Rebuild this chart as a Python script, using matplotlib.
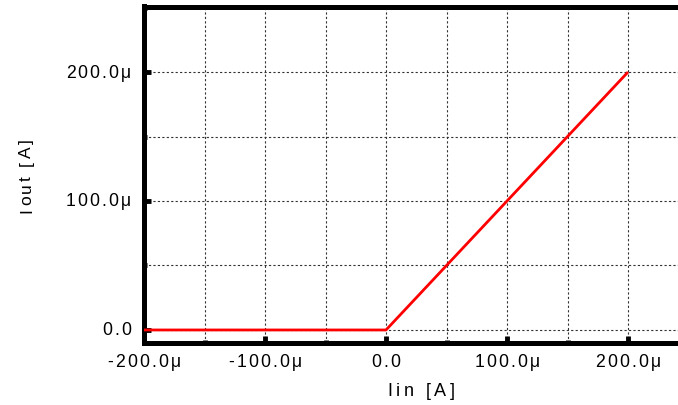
import matplotlib
matplotlib.use("Agg")
import matplotlib.pyplot as plt
from matplotlib.ticker import MultipleLocator, NullFormatter
from matplotlib.font_manager import FontProperties, findfont, get_font

W, H, DPI = 678, 405, 100
FAMILY = 'Liberation Sans'

# ---- data ----
iin = [-200e-6, 0.0, 200e-6]
iout = [0.0, 0.0, 200e-6]
x_major = [-200e-6, -100e-6, 0.0, 100e-6, 200e-6]
y_major = [0.0, 100e-6, 200e-6]
x_label = 'Iin [A]'
y_label = 'Iout [A]'


def fmt(v):
    if abs(v) < 1e-12:
        return "0.0"
    return f"{v*1e6:.1f}\u03bc"


def advances(s, size_pt):
    font = get_font(findfont(FontProperties(family=FAMILY, size=size_pt)))
    font.set_size(size_pt, DPI)
    return [font.load_char(ord(c)).linearHoriAdvance / 65536 for c in s]


def spaced_text(fig, s, x, y, size_pt, spacing, align='center', rotation=0):
    """Draw text with letter spacing. x, y in image pixels (y down).
    For rotation 0: x is anchor along baseline (align left/center/right), y baseline.
    For rotation 90: y is anchor along text, x baseline."""
    adv = advances(s, size_pt)
    total = sum(adv) + spacing * (len(s) - 1)
    if align == 'center':
        start = -total / 2
    elif align == 'right':
        start = -total
    else:
        start = 0.0
    pen = start
    for c, a in zip(s, adv):
        mid = pen + a / 2
        if rotation == 0:
            px, py = x + mid, y
        else:
            px, py = x, y - mid
        fig.text(px / W, 1 - py / H, c, fontsize=size_pt, family=FAMILY,
                 ha='center', va='baseline', rotation=rotation,
                 rotation_mode='anchor', color='black')
        pen += a + spacing


fig = plt.figure(figsize=(W / DPI, H / DPI), dpi=DPI)
left, right, top, bottom = 144, 678, 6.5, 343
ax = fig.add_axes([left / W, 1 - bottom / H, (right - left) / W, (bottom - top) / H])

ax.plot(iin, iout, color='#ff0000', lw=2, solid_capstyle='butt', zorder=3, clip_on=False)

ax.set_xlim(-200e-6, 241.3e-6)
ax.set_ylim(-10.1e-6, 250.8e-6)

ax.set_xticks(x_major)
ax.set_yticks(y_major)
ax.xaxis.set_minor_locator(MultipleLocator(50e-6))
ax.yaxis.set_minor_locator(MultipleLocator(50e-6))
ax.xaxis.set_major_formatter(NullFormatter())
ax.yaxis.set_major_formatter(NullFormatter())

ax.grid(True, which='both', color='#333333', linestyle=(0, (2, 2)), linewidth=0.8)
ax.set_axisbelow(True)

for s in ['left', 'bottom', 'top']:
    ax.spines[s].set_linewidth(3.6)
    ax.spines[s].set_color('black')
ax.spines['right'].set_visible(False)

ax.tick_params(axis='both', which='major', direction='in', length=5, width=3.5, colors='black')
ax.tick_params(axis='both', which='minor', direction='in', length=2, width=3.5)

# tick labels with letter spacing, positioned via the axes' data transform
TICK_PT = 12.7
TICK_SP = 2.2
for v in x_major:
    px, _ = ax.transData.transform((v, 0))
    spaced_text(fig, fmt(v), px, 367, TICK_PT, TICK_SP, align='center')
for v in y_major:
    _, py = ax.transData.transform((0, v))
    py_img = H - py
    spaced_text(fig, fmt(v), 131, py_img + 5.5, TICK_PT, TICK_SP, align='right')

# axis labels
spaced_text(fig, x_label, 421, 396, 13, 3.6, align='center')
spaced_text(fig, y_label, 31, 176, 12.5, 2.6, align='center', rotation=90)

fig.savefig('out.png', dpi=DPI)
